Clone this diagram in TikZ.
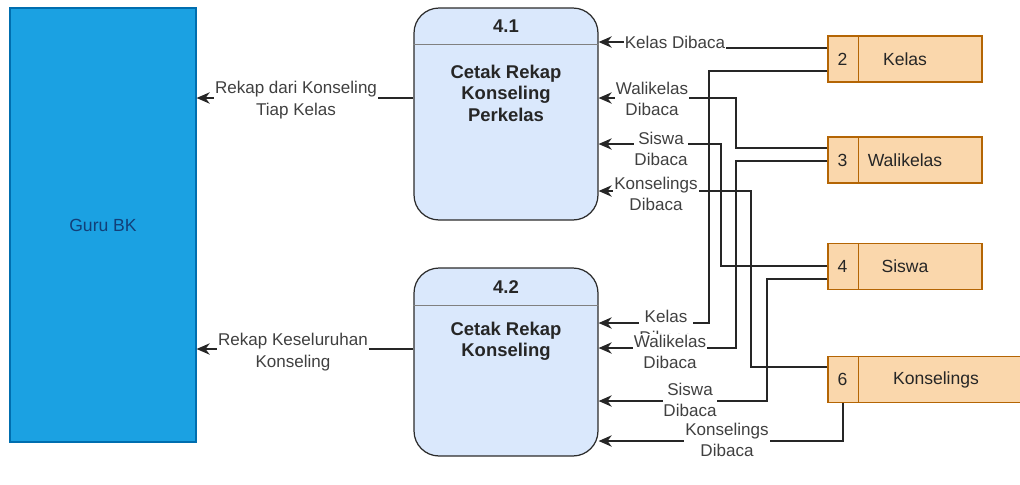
\documentclass[tikz,border=0pt]{standalone}
\usepackage{fontspec}
\setmainfont{Liberation Sans}
\usetikzlibrary{arrows.meta}

\definecolor{guruFill}{HTML}{1BA1E2}
\definecolor{guruLine}{HTML}{006EAF}
\definecolor{guruText}{HTML}{123F78}
\definecolor{procFill}{HTML}{DAE8FC}
\definecolor{procLine}{HTML}{2B2B2B}
\definecolor{storeFill}{HTML}{FAD7AC}
\definecolor{storeLine}{HTML}{B46504}

\begin{document}
\begin{tikzpicture}[x=0.02cm, y=-0.02cm, line width=0.7pt,
	entity/.style={draw=guruLine, fill=guruFill, minimum width=3.72cm, minimum height=8.68cm, text=guruText, font=\fontsize{10}{12}\selectfont},
	process/.style={draw=procLine, fill=procFill, rounded corners=0.5cm, minimum width=3.68cm},
	proctext/.style={align=center, text=black!85, font=\bfseries\fontsize{10.5}{12.2}\selectfont},
	store/.style={draw=storeLine, fill=storeFill, minimum height=0.92cm, text=black!85, font=\fontsize{10}{12}\selectfont},
	flow/.style={draw=black!85, -{Stealth[length=7.5pt,width=6.5pt]}},
	flowlabel/.style={fill=white, inner sep=0.5pt, align=center, text=black!75, font=\fontsize{9.7}{12.2}\selectfont}]
	\useasboundingbox (0,0) rectangle (1020,484);
	
	% External entity
	\node[entity] (guru) at (103,225) {Guru BK};
	
	% Processes
	\node[process, minimum height=4.24cm] (p41) at (506,114) {};
	\node[process, minimum height=3.76cm] (p42) at (506,362) {};
	\draw[gray, line width=0.5pt] ([yshift=-0.75cm]p41.north west) -- ([yshift=-0.75cm]p41.north east);
	\draw[gray, line width=0.5pt] ([yshift=-0.76cm]p42.north west) -- ([yshift=-0.76cm]p42.north east);
	\node[proctext] (t41) at (506,26) {4.1};
	\node[proctext] (n41) at (506,93) {Cetak Rekap\\Konseling\\Perkelas};
	\node[proctext] (t42) at (506,287) {4.2};
	\node[proctext] (n42) at (506,341) {Cetak Rekap\\Konseling};
	
	% Data stores
	\node[store, minimum width=3.08cm] (kelas) at (905,59) {Kelas};
	\node[store, minimum width=3.08cm] (wali) at (905,160) {Walikelas};
	\node[store, minimum width=3.08cm] (siswa) at (905,266.5) {Siswa};
	\node[store, minimum width=4.32cm] (kons) at (936,379.5) {Konselings};
	\foreach \s/\n in {kelas/2, wali/3, siswa/4, kons/6} {
		\draw[storeLine] ([xshift=0.62cm]\s.north west) -- ([xshift=0.62cm]\s.south west);
		\node[store, draw=none, fill=none, minimum height=0pt] (\s num) at ([xshift=0.3cm]\s.west) {\n};
	}
	
	% Flows into 4.1
	\draw[flow] (kelas.west |- 0,48) -- (700,48) -- (700,42) -- (p41.east |- 0,42);
	\draw[flow] (wali.west |- 0,148) -| (736,98) -- (p41.east |- 0,98);
	\draw[flow] (siswa.west |- 0,266) -| (721,144) -- (p41.east |- 0,144);
	\draw[flow] (kons.west |- 0,367) -| (751,191) -- (p41.east |- 0,191);
	
	% Flows into 4.2
	\draw[flow] (kelas.west |- 0,71) -| (709,323) -- (p42.east |- 0,323);
	\draw[flow] (wali.west |- 0,161) -| (736,348) -- (p42.east |- 0,348);
	\draw[flow] (siswa.west |- 0,279) -| (767,401) -- (p42.east |- 0,401);
	\draw[flow] (kons.south -| 843,0) |- (p42.east |- 0,441);
	
	% Flows to Guru BK
	\draw[flow] (p41.west |- 0,98) -- (guru.east |- 0,98);
	\draw[flow] (p42.west |- 0,349) -- (guru.east |- 0,349);
	
	% Labels
	\node[flowlabel] (lk1) at (675,42) {Kelas Dibaca};
	\node[flowlabel] (lw1) at (652,99) {Walikelas\\Dibaca};
	\node[flowlabel] (ls1) at (661,149) {Siswa\\Dibaca};
	\node[flowlabel] (lc1) at (656,194) {Konselings\\Dibaca};
	\node[flowlabel] (lk2) at (666,327) {Kelas\\Dibaca};
	\node[flowlabel] (lw2) at (670,352) {Walikelas\\Dibaca};
	\node[flowlabel] (ls2) at (690,400) {Siswa\\Dibaca};
	\node[flowlabel] (lc2) at (727,440) {Konselings\\Dibaca};
	\node[flowlabel] (lr1) at (296,100) {Rekap dari Konseling\\Tiap Kelas};
	\node[flowlabel] (lr2) at (293,352) {Rekap Keseluruhan\\Konseling};
\end{tikzpicture}
\end{document}
